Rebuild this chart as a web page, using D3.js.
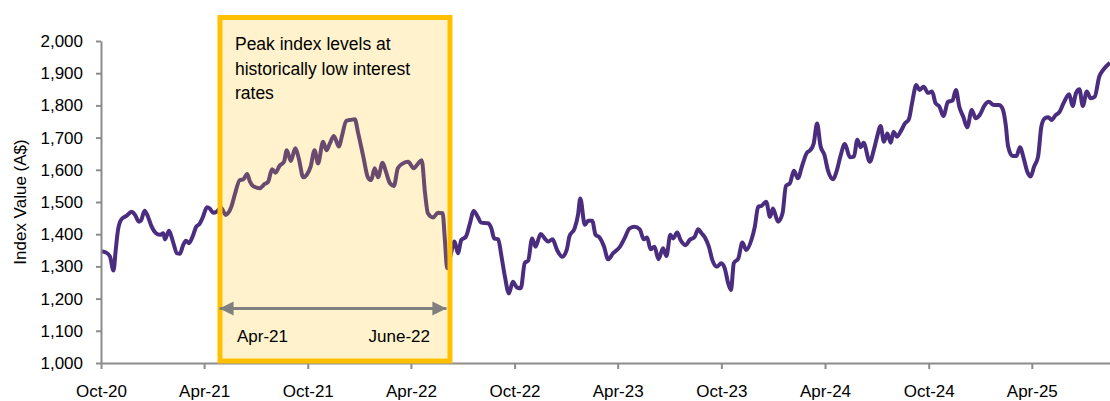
<!DOCTYPE html>
<html>
<head>
<meta charset="utf-8">
<script src="https://cdn.jsdelivr.net/npm/d3@7"></script>
<style>
  html, body { margin: 0; padding: 0; background: #ffffff; }
  svg { display: block; font-family: "Liberation Sans", Arial, sans-serif; }
</style>
</head>
<body>
<svg id="chart" width="1110" height="401"></svg>
<script>
const dates = [
"2020-10-01","2020-10-11","2020-10-17","2020-10-23","2020-10-27","2020-10-31","2020-11-06","2020-11-15","2020-11-24","2020-11-30",
"2020-12-07","2020-12-11","2020-12-17","2020-12-23","2020-12-29","2021-01-06","2021-01-13","2021-01-19","2021-01-22","2021-01-29",
"2021-02-05","2021-02-12","2021-02-17","2021-02-23","2021-02-28","2021-03-05","2021-03-12","2021-03-18","2021-03-24","2021-03-30",
"2021-04-06","2021-04-11","2021-04-17","2021-04-23","2021-05-01","2021-05-09","2021-05-13","2021-05-19","2021-05-25","2021-06-03",
"2021-06-09","2021-06-16","2021-06-21","2021-06-26","2021-07-08","2021-07-17","2021-07-23","2021-07-30","2021-08-05","2021-08-12",
"2021-08-20","2021-08-25","2021-09-01","2021-09-09","2021-09-15","2021-09-23","2021-09-29","2021-10-06","2021-10-13","2021-10-19",
"2021-10-28","2021-11-03","2021-11-09","2021-11-16","2021-11-25","2021-11-30","2021-12-08","2021-12-16","2021-12-23","2021-12-29",
"2022-01-07","2022-01-15","2022-01-21","2022-01-27","2022-02-02","2022-02-10","2022-02-16","2022-02-23","2022-03-02","2022-03-09",
"2022-03-18","2022-03-27","2022-04-06","2022-04-14","2022-04-20","2022-04-26","2022-05-01","2022-05-10","2022-05-19","2022-05-27",
"2022-05-31","2022-06-04","2022-06-10","2022-06-17","2022-06-23","2022-06-29","2022-07-07","2022-07-14","2022-07-21","2022-07-28",
"2022-08-03","2022-08-15","2022-08-21","2022-08-26","2022-09-02","2022-09-08","2022-09-14","2022-09-21","2022-09-28","2022-10-05",
"2022-10-12","2022-10-19","2022-10-25","2022-11-01","2022-11-07","2022-11-16","2022-11-23","2022-11-29","2022-12-07","2022-12-15",
"2022-12-24","2023-01-01","2023-01-06","2023-01-15","2023-01-21","2023-01-25","2023-02-02","2023-02-08","2023-02-15","2023-02-21",
"2023-02-28","2023-03-08","2023-03-15","2023-03-24","2023-04-05","2023-04-13","2023-04-22","2023-05-01","2023-05-10","2023-05-17",
"2023-05-23","2023-05-29","2023-06-05","2023-06-12","2023-06-20","2023-06-26","2023-07-03","2023-07-08","2023-07-15","2023-07-21",
"2023-07-30","2023-08-06","2023-08-15","2023-08-21","2023-08-27","2023-09-02","2023-09-09","2023-09-15","2023-09-23","2023-10-01",
"2023-10-07","2023-10-13","2023-10-18","2023-10-23","2023-10-31","2023-11-07","2023-11-14","2023-11-23","2023-11-29","2023-12-05",
"2023-12-11","2023-12-19","2023-12-26","2023-12-31","2024-01-09","2024-01-17","2024-01-23","2024-01-30","2024-02-06","2024-02-13",
"2024-02-21","2024-02-29","2024-03-06","2024-03-12","2024-03-18","2024-03-24","2024-03-31","2024-04-06","2024-04-15","2024-04-22",
"2024-04-28","2024-05-06","2024-05-15","2024-05-22","2024-05-28","2024-06-03","2024-06-08","2024-06-19","2024-06-26","2024-07-02",
"2024-07-08","2024-07-14","2024-07-20","2024-07-26","2024-07-31","2024-08-06","2024-08-14","2024-08-20","2024-08-27","2024-09-02",
"2024-09-09","2024-09-15","2024-09-22","2024-09-30","2024-10-07","2024-10-13","2024-10-20","2024-10-27","2024-11-04","2024-11-12",
"2024-11-18","2024-11-24","2024-12-01","2024-12-08","2024-12-16","2024-12-23","2024-12-30","2025-01-08","2025-01-15","2025-01-24",
"2025-02-02","2025-02-08","2025-02-14","2025-02-18","2025-02-26","2025-03-05","2025-03-11","2025-03-18","2025-03-24","2025-03-30",
"2025-04-05","2025-04-12","2025-04-18","2025-04-24","2025-04-30","2025-05-06","2025-05-13","2025-05-20","2025-05-27","2025-06-06",
"2025-06-12","2025-06-18","2025-06-24","2025-06-30","2025-07-07","2025-07-14","2025-07-21","2025-07-29","2025-08-05","2025-08-17"
];
const values = [
1347,1342,1330,1287,1351,1413,1446,1457,1470,1460,
1439,1444,1473,1454,1425,1403,1398,1403,1384,1411,
1377,1341,1339,1366,1380,1372,1394,1423,1432,1454,
1484,1480,1467,1470,1482,1460,1465,1485,1522,1568,
1570,1587,1563,1550,1543,1556,1563,1602,1591,1612,
1625,1661,1627,1667,1636,1577,1584,1610,1661,1620,
1687,1661,1682,1705,1672,1703,1752,1755,1757,1713,
1641,1577,1568,1605,1577,1622,1594,1558,1550,1605,
1620,1625,1605,1620,1630,1527,1465,1452,1467,1465,
1382,1294,1335,1377,1341,1382,1392,1432,1472,1454,
1436,1434,1418,1387,1384,1330,1268,1216,1252,1235,
1232,1311,1318,1387,1361,1401,1387,1377,1384,1351,
1330,1351,1394,1418,1460,1511,1429,1442,1442,1398,
1390,1361,1322,1341,1361,1387,1418,1423,1415,1384,
1390,1353,1361,1322,1356,1332,1398,1387,1405,1382,
1366,1382,1392,1415,1403,1390,1361,1320,1299,1310,
1294,1248,1227,1310,1325,1374,1351,1382,1423,1485,
1488,1501,1454,1480,1439,1465,1550,1558,1597,1574,
1615,1653,1661,1682,1744,1674,1646,1599,1571,1599,
1641,1680,1639,1641,1693,1670,1684,1625,1661,1703,
1736,1687,1713,1684,1718,1703,1724,1744,1757,1811,
1863,1848,1858,1839,1843,1807,1796,1767,1811,1815,
1848,1796,1765,1732,1786,1760,1770,1801,1811,1801,
1801,1791,1739,1674,1643,1643,1670,1633,1594,1579,
1610,1641,1736,1760,1763,1755,1770,1780,1807,1835,
1798,1838,1850,1798,1843,1822,1827,1889,1910,1932
];

const yTicks = [1000,1100,1200,1300,1400,1500,1600,1700,1800,1900,2000];
const xTickDates = ["2020-10-01","2021-04-01","2021-10-01","2022-04-01","2022-10-01","2023-04-01","2023-10-01","2024-04-01","2024-10-01","2025-04-01"];
const xTickLabels = ["Oct-20","Apr-21","Oct-21","Apr-22","Oct-22","Apr-23","Oct-23","Apr-24","Oct-24","Apr-25"];
const xDomain = ["2020-10-01","2025-08-17"];

const annotationStart = "2021-04-29";
const annotationEnd = "2022-06-09";
const annotationLines = ["Peak index levels at","historically low interest","rates"];
const arrowLabels = ["Apr-21","June-22"];

(function () {
const parse = d3.utcParse("%Y-%m-%d");
const data = dates.map((d, i) => ({date: parse(d), value: values[i]}));

const svg = d3.select("#chart");
const mLeft = 101, mRight = 1110, mTop = 41, mBottom = 363;

const x = d3.scaleUtc().domain(xDomain.map(parse)).range([mLeft, mRight]);
const y = d3.scaleLinear().domain([1000, 2000]).range([mBottom, mTop]);

const lineColor = "#4B2D80";
const lineColorInBox = "#6A4A6E";
const axisColor = "#8C8C8C";
const fontSize = 17;
const lineWidth = 4;

const line = d3.line()
  .x(d => x(d.date))
  .y(d => y(d.value))
  .curve(d3.curveMonotoneX);

const bx0 = x(parse(annotationStart));
const bx1 = x(parse(annotationEnd));
const by0 = mTop - 23.5;
const by1 = mBottom - 2;

const defs = svg.append("defs");
defs.append("clipPath").attr("id", "boxclip")
  .append("rect").attr("x", bx0).attr("y", by0).attr("width", bx1 - bx0).attr("height", by1 - by0);

svg.append("path")
  .datum(data)
  .attr("fill", "none")
  .attr("stroke", lineColor)
  .attr("stroke-width", lineWidth)
  .attr("stroke-linejoin", "round")
  .attr("d", line);

svg.append("rect")
  .attr("x", bx0).attr("y", by0)
  .attr("width", bx1 - bx0).attr("height", by1 - by0)
  .attr("fill", "#FFF2CC");

svg.append("path")
  .datum(data)
  .attr("clip-path", "url(#boxclip)")
  .attr("fill", "none")
  .attr("stroke", lineColorInBox)
  .attr("stroke-width", lineWidth)
  .attr("stroke-linejoin", "round")
  .attr("d", line);

const yAxis = d3.axisLeft(y).tickValues(yTicks).tickSize(5).tickSizeOuter(0).tickPadding(13)
  .tickFormat(d3.format(","));
const gy = svg.append("g").attr("transform", `translate(${mLeft},0)`).call(yAxis);

const xAxis = d3.axisBottom(x).tickValues(xTickDates.map(parse)).tickSize(6).tickSizeOuter(0).tickPadding(16)
  .tickFormat((d, i) => xTickLabels[i]);
const gx = svg.append("g").attr("transform", `translate(0,${mBottom})`).call(xAxis);

[gx, gy].forEach(g => {
  g.select(".domain").attr("stroke", axisColor).attr("stroke-width", 2);
  g.selectAll(".tick line").attr("stroke", axisColor).attr("stroke-width", 2);
  g.selectAll(".tick text").attr("fill", "#000").style("font-size", fontSize + "px")
    .style("font-family", '"Liberation Sans", Arial, sans-serif');
});

svg.append("rect")
  .attr("x", bx0).attr("y", by0)
  .attr("width", bx1 - bx0).attr("height", by1 - by0)
  .attr("fill", "none")
  .attr("stroke", "#FFC000")
  .attr("stroke-width", 5);

const ann = svg.append("text")
  .attr("fill", "#000")
  .style("font-size", "17.5px");
annotationLines.forEach((t, i) => {
  ann.append("tspan").attr("x", bx0 + 15).attr("y", 50 + i * 24.5).text(t);
});

const arrowY = 308.5;
defs.append("marker").attr("id", "arrowEnd")
  .attr("viewBox", "0 0 10 10").attr("refX", 10).attr("refY", 5)
  .attr("markerWidth", 5).attr("markerHeight", 4.7).attr("markerUnits", "strokeWidth")
  .attr("orient", "auto")
  .append("path").attr("d", "M0,0 L10,5 L0,10 Z").attr("fill", "#808080");
defs.append("marker").attr("id", "arrowStart")
  .attr("viewBox", "0 0 10 10").attr("refX", 0).attr("refY", 5)
  .attr("markerWidth", 5).attr("markerHeight", 4.7).attr("markerUnits", "strokeWidth")
  .attr("orient", "auto")
  .append("path").attr("d", "M10,0 L0,5 L10,10 Z").attr("fill", "#808080");

svg.append("line")
  .attr("x1", bx0 - 0.5).attr("x2", bx1 - 3.5)
  .attr("y1", arrowY).attr("y2", arrowY)
  .attr("stroke", "#808080").attr("stroke-width", 3)
  .attr("marker-start", "url(#arrowStart)")
  .attr("marker-end", "url(#arrowEnd)");

svg.append("text").attr("x", bx0 + 17).attr("y", 342)
  .attr("fill", "#000").style("font-size", fontSize + "px").text(arrowLabels[0]);
svg.append("text").attr("x", bx1 - 20).attr("y", 342).attr("text-anchor", "end")
  .attr("fill", "#000").style("font-size", fontSize + "px").text(arrowLabels[1]);

svg.append("text")
  .attr("transform", `translate(26,${(mTop + mBottom) / 2}) rotate(-90)`)
  .attr("text-anchor", "middle")
  .attr("fill", "#000")
  .style("font-size", fontSize + "px")
  .text("Index Value (A$)");
})();
</script>
</body>
</html>
